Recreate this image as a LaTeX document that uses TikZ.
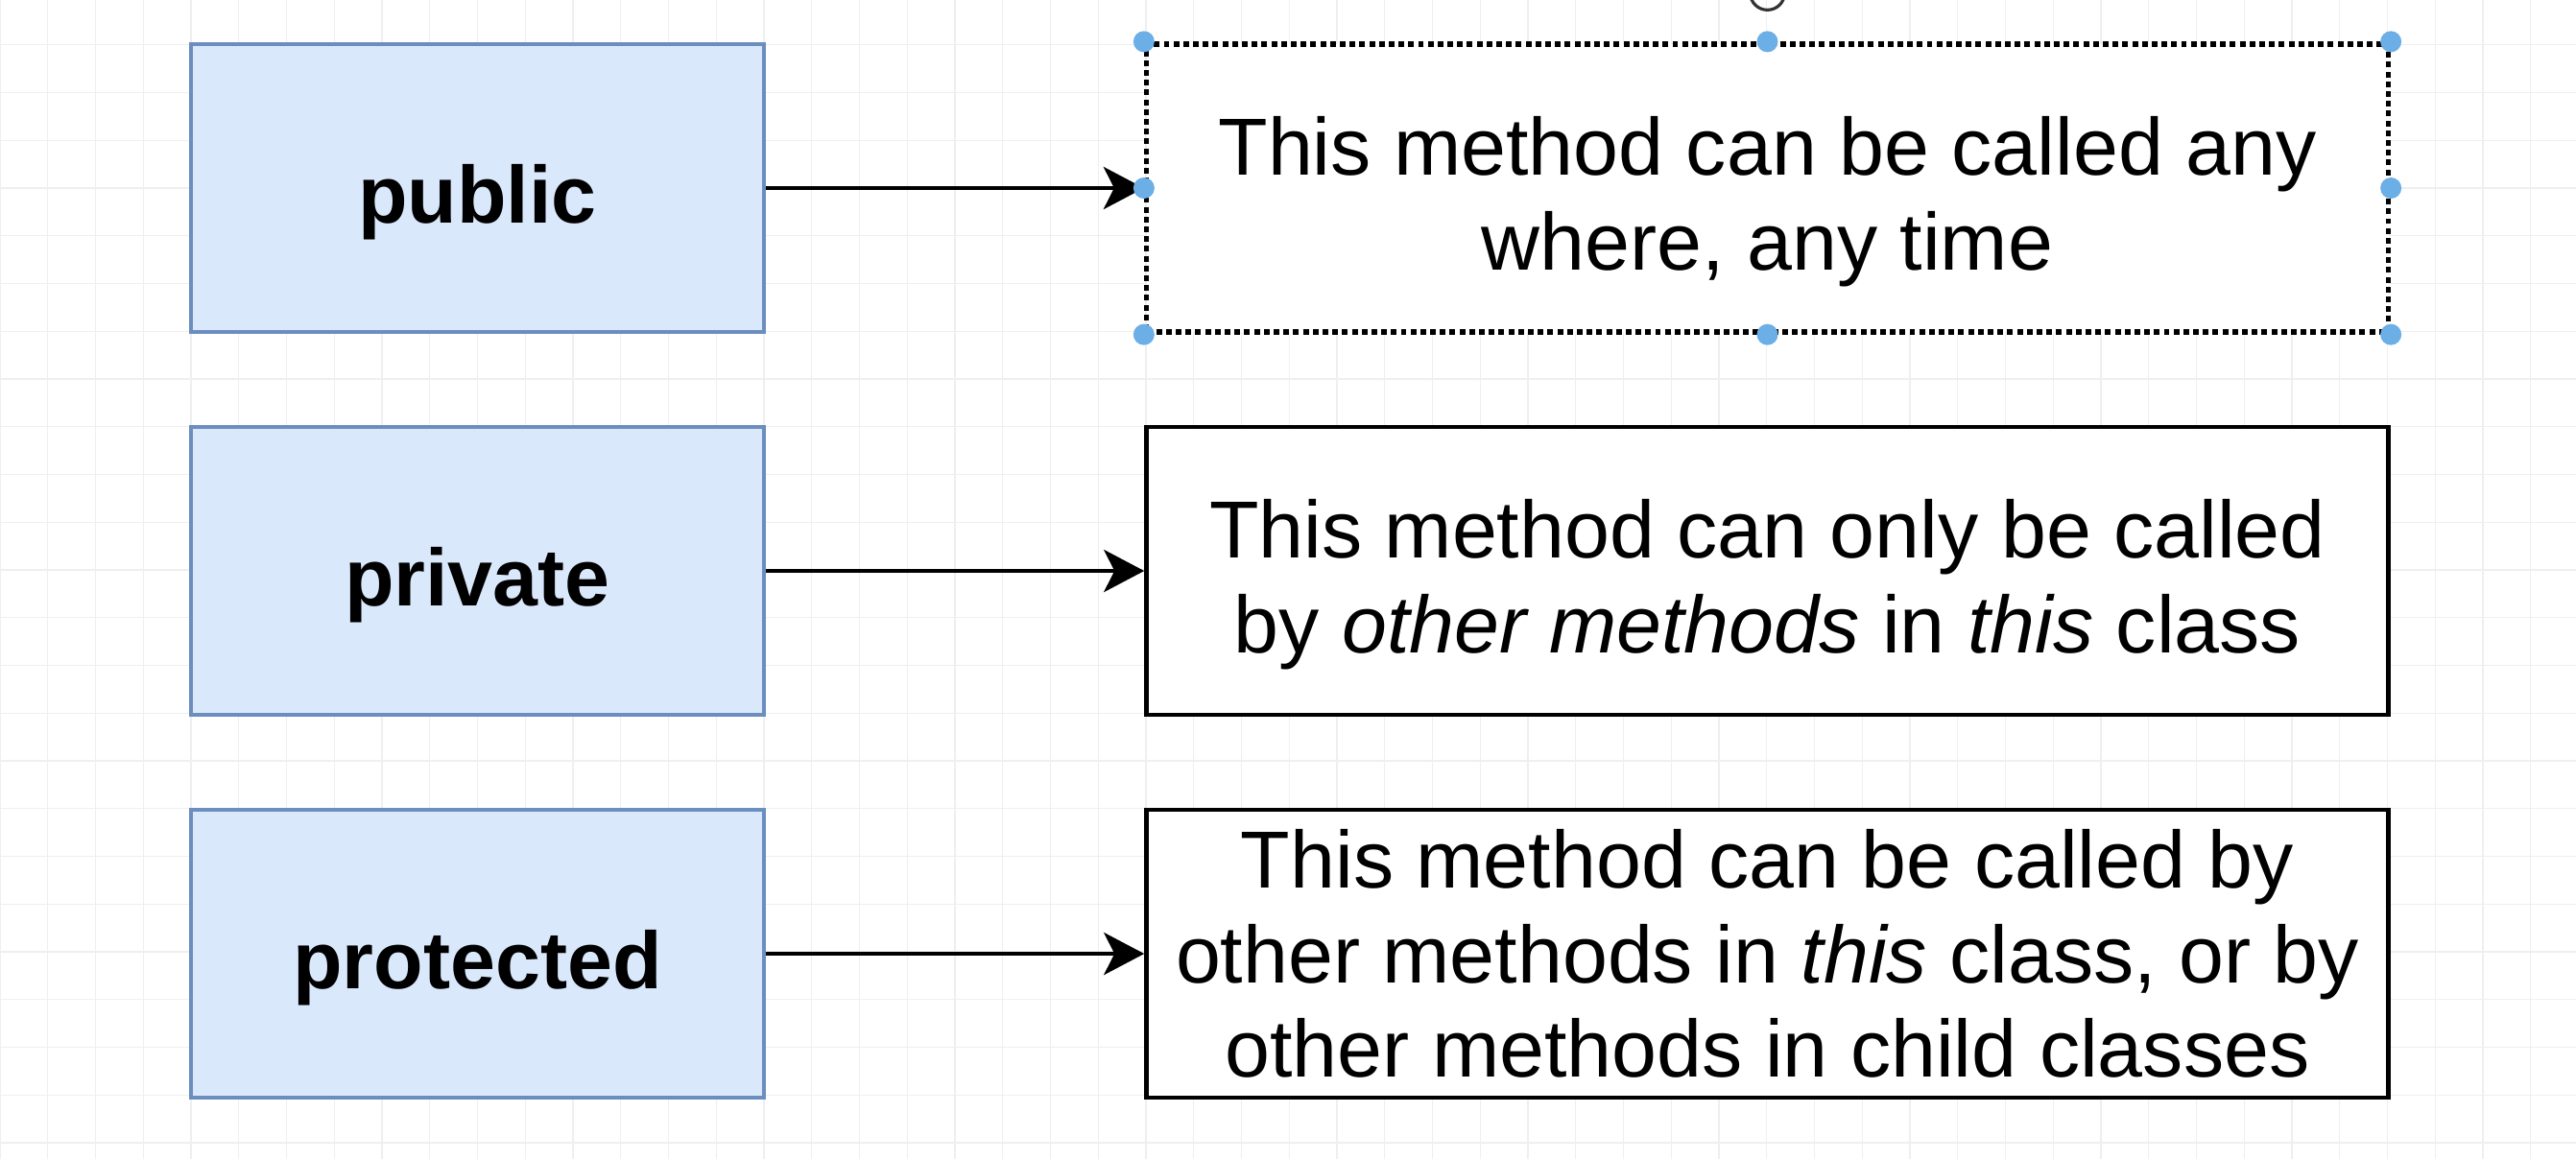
\documentclass[tikz,border=0pt]{standalone}
\usepackage{fontspec}
\setmainfont{Liberation Sans}
\usetikzlibrary{arrows.meta}
\definecolor{modfill}{HTML}{DAE8FC}
\definecolor{moddraw}{HTML}{6C8EBF}
\definecolor{selblue}{HTML}{6CAEE6}
\definecolor{gridline}{HTML}{EFEFEF}

\begin{document}
\begin{tikzpicture}[node distance=3.99cm, auto, >={Stealth[length=0.42cm, width=0.44cm, inset=0.11cm]}]
    \tikzstyle{modifier} = [rectangle, minimum width=5.97cm, minimum height=3cm, inner sep=2pt, text height=0.9cm, text depth=0.18cm, draw=moddraw, fill=modfill, line width=1.3pt, font=\fontsize{24}{28}\selectfont\bfseries]
    \tikzstyle{meaning} = [rectangle, minimum width=12.94cm, minimum height=3cm, inner sep=2pt, align=center, draw=black, fill=white, line width=1.3pt, font=\fontsize{24}{28}\selectfont]
    \tikzstyle{selected} = [dash pattern=on 1.7pt off 1.2pt, line width=1.5pt]

    % Page and background grid
    \useasboundingbox (-4.975,-10.12) rectangle (21.865,1.96);
    \draw [gridline, step=0.4975cm, line width=0.4pt] (-4.975,-10.12) grid (21.865,1.96);

    % Access modifiers
    \node [modifier] (public) {public};
    \node [modifier, below of=public] (private) {private};
    \node [modifier, below of=private] (protected) {protected};

    % What each one means
    \node [meaning, selected, text height=1.88cm, right of=public, xshift=9.45cm] (anytime) {This method can be called any\\where, any time};
    \node [meaning, text height=1.88cm, right of=private, xshift=9.45cm] (thisclass) {This method can only be called\\by \textit{other methods} in \textit{this} class};
    \node [meaning, right of=protected, xshift=9.45cm] (childclass) {This method can be called by\\other methods in \textit{this} class, or by\\other methods in child classes};

    % Connections
    \draw [->, line width=1.3pt] (public) -- (anytime);
    \draw [->, line width=1.3pt] (private) -- (thisclass);
    \draw [->, line width=1.3pt] (protected) -- (childclass);

    % Selection handles
    \foreach \pos in {north west, north, north east, west, east, south west, south, south east}
        \fill [selblue] (anytime.\pos) circle (0.11);
    \draw [black!80, line width=0.9pt] ([yshift=0.51cm]anytime.north) circle (0.18);
\end{tikzpicture}
\end{document}
